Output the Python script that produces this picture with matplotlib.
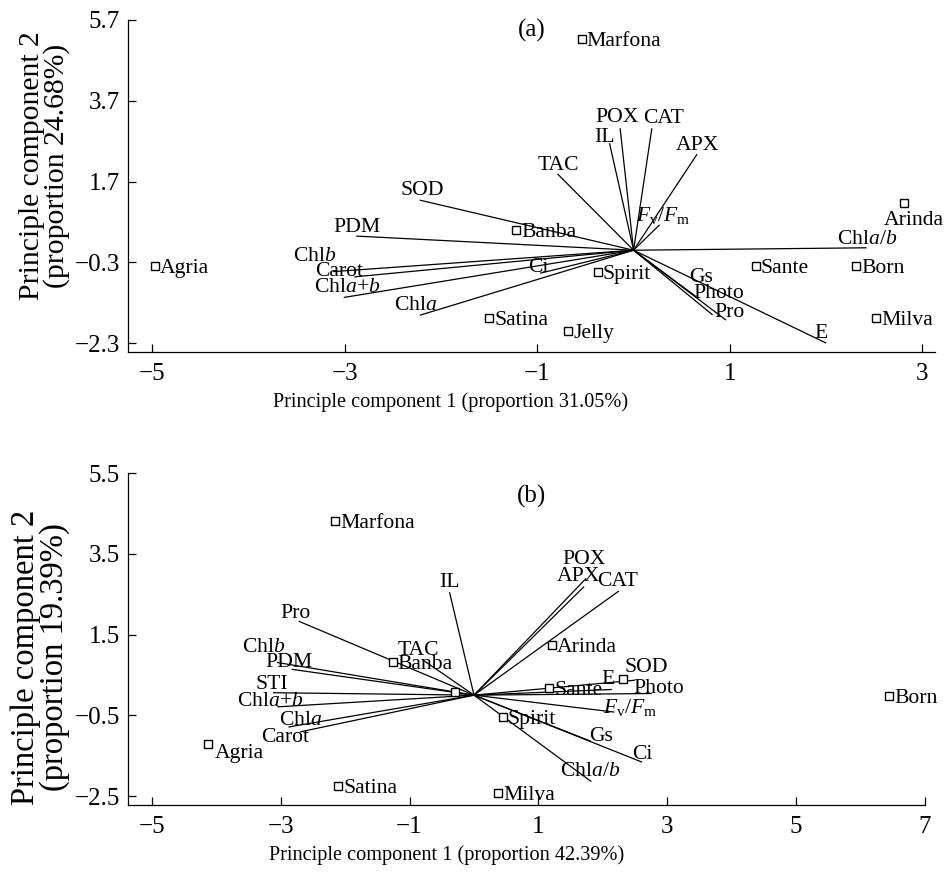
import matplotlib
matplotlib.use('Agg')
import matplotlib.pyplot as plt

plt.rcParams['font.family'] = ['Liberation Serif', 'DejaVu Serif']
plt.rcParams['mathtext.fontset'] = 'custom'
plt.rcParams['mathtext.rm'] = 'Liberation Serif'
plt.rcParams['mathtext.it'] = 'Liberation Serif:italic'

# ---------------- data: panel (a) ----------------
a_vars = ['SOD', 'PDM', 'Chl$b$', 'Carot', 'Chl$a$+$b$', 'Chl$a$', 'Ci', 'TAC', 'IL',
          'POX', 'CAT', 'APX', r'$F_{\mathrm{v}}/F_{\mathrm{m}}$', 'Chl$a$/$b$',
          'Gs', 'Photo', 'Pro', 'E']
a_var_pc1 = [-2.22, -2.88, -3.12, -2.90, -3.01, -2.22, -0.97, -0.79, -0.25,
             -0.14, 0.19, 0.66, 0.27, 2.42, 0.65, 0.82, 0.96, 2.00]
a_var_pc2 = [1.24, 0.35, -0.53, -0.66, -1.17, -1.61, -0.57, 1.89, 2.65,
             3.02, 3.02, 2.38, 0.63, 0.06, -1.15, -1.60, -1.73, -2.30]

a_cult = ['Marfona', 'Agria', 'Banba', 'Spirit', 'Satina', 'Jelly', 'Sante', 'Born', 'Milva', 'Arinda']
a_cult_pc1 = [-0.54, -4.97, -1.22, -0.37, -1.50, -0.68, 1.27, 2.31, 2.52, 2.81]
a_cult_pc2 = [5.23, -0.38, 0.50, -0.53, -1.68, -1.99, -0.39, -0.38, -1.68, 1.18]

a_xticks = [-5, -3, -1, 1, 3]
a_yticks = [5.7, 3.7, 1.7, -0.3, -2.3]
a_xlabel = 'Principle component 1 (proportion 31.05%)'
a_ylabel = 'Principle component 2\n(proportion 24.68%)'

# ---------------- data: panel (b) ----------------
b_vars = ['IL', 'Pro', 'Chl$b$', 'PDM', 'STI', 'Chl$a$+$b$', 'Chl$a$', 'Carot', 'TAC',
          'POX', 'APX', 'CAT', 'SOD', 'E', 'Photo', r'$F_{\mathrm{v}}/F_{\mathrm{m}}$',
          'Gs', 'Ci', 'Chl$a$/$b$']
b_var_pc1 = [-0.38, -2.72, -3.06, -2.83, -3.12, -3.05, -2.88, -2.70, -0.81,
             1.74, 1.71, 2.25, 2.50, 2.14, 2.76, 2.18, 1.81, 2.61, 1.82]
b_var_pc2 = [2.55, 1.83, 0.81, 0.64, 0.06, -0.29, -0.79, -0.91, 0.89,
             2.89, 2.69, 2.58, 0.37, 0.14, 0.04, -0.42, -1.14, -1.66, -2.14]

b_cult = ['Marfona', 'Banba', '', 'Agria', 'Satina', 'Milva', 'Spirit', 'Sante', 'Arinda', '', 'Born']
b_cult_pc1 = [-2.15, -1.26, -0.29, -4.13, -2.11, 0.38, 0.45, 1.17, 1.21, 2.31, 6.44]
b_cult_pc2 = [4.30, 0.83, 0.09, -1.20, -2.26, -2.42, -0.55, 0.18, 1.24, 0.41, -0.02]

b_xticks = [-5, -3, -1, 1, 3, 5, 7]
b_yticks = [5.5, 3.5, 1.5, -0.5, -2.5]
b_xlabel = 'Principle component 1 (proportion 42.39%)'
b_ylabel = 'Principle component 2\n(proportion 19.39%)'

# ---------------- label placement (pixel offsets, right/up) ----------------
a_var_off = [(2, 12), (1, 11), (-18, 18), (-15, 8), (3, 12), (-4, 12), (-2, 8), (1, 11), (-5, 8),
             (-3, 13), (12, 12), (0, 11), (4, 12), (0, 11), (5, 22), (6, 24), (3, 10), (-5, 12)]
b_var_off = [(0, 12), (-3, 10), (-13, 17), (-3, 9), (-1, 11), (-7, 8), (12, 9), (-15, -3), (-3, 11),
             (-2, 21), (-6, 12), (-1, 12), (11, 15), (-4, 12), (7, 8), (16, 7), (10, 7), (0, 10), (-1, 13)]
a_cult_off = {'Arinda': (10, -15, 'center')}
b_cult_off = {'Agria': (7, -7, 'left')}

PX2PT = 72.0 / 100.0
VAR_FS = 15.6
TICK_FS = 18

fig = plt.figure(figsize=(9.46, 8.74), dpi=100)
ax_a = fig.add_axes([128 / 946, 1 - 352 / 874, 807 / 946, 332 / 874])
ax_b = fig.add_axes([128 / 946, 1 - 805 / 874, 797 / 946, 332 / 874])


def draw(ax, vars_, vx, vy, voff, cult, cx, cy, coff, xt, yt, xlim, ylim, xl, yl, tag, tagpos,
         ylfs, ylpos):
    for name, x, y, (dx, dy) in zip(vars_, vx, vy, voff):
        ax.plot([0, x], [0, y], color='black', lw=0.9, solid_capstyle='butt')
        ax.annotate(name, xy=(x, y), xytext=(dx * PX2PT, dy * PX2PT), textcoords='offset points',
                    ha='center', va='center_baseline', fontsize=VAR_FS)
    ax.plot(cx, cy, linestyle='none', marker='s', markersize=5.2, markerfacecolor='white',
            markeredgecolor='black', markeredgewidth=1.0, zorder=5)
    for name, x, y in zip(cult, cx, cy):
        if not name:
            continue
        dx, dy, ha = coff.get(name, (5, 0, 'left'))
        ax.annotate(name, xy=(x, y), xytext=(dx * PX2PT, dy * PX2PT), textcoords='offset points',
                    ha=ha, va='center_baseline', fontsize=VAR_FS)
    ax.set_xlim(*xlim)
    ax.set_ylim(*ylim)
    ax.set_xticks(xt)
    ax.set_xticklabels([f'{v:g}'.replace('-', '\u2212') for v in xt])
    ax.set_yticks(yt)
    ax.set_yticklabels([f'{v:.1f}'.replace('-', '\u2212') for v in yt])
    ax.tick_params(direction='in', length=6, width=0.9, labelsize=TICK_FS)
    ax.tick_params(axis='x', pad=8)
    ax.tick_params(axis='y', pad=6)
    for s in ['top', 'right']:
        ax.spines[s].set_visible(False)
    for s in ['left', 'bottom']:
        ax.spines[s].set_linewidth(0.9)
    ax.spines['left'].set_bounds(ylim[0], yt[0])
    ax.set_xlabel(xl, fontsize=14.6)
    ax.set_ylabel(yl, fontsize=ylfs, linespacing=0.92)
    ax.xaxis.set_label_coords(0.40, -0.12)
    ax.yaxis.set_label_coords(*ylpos)
    ax.text(tagpos[0], tagpos[1], tag, transform=ax.transAxes, ha='center', va='center',
            fontsize=18)


draw(ax_a, a_vars, a_var_pc1, a_var_pc2, a_var_off, a_cult, a_cult_pc1, a_cult_pc2, a_cult_off,
     a_xticks, a_yticks, (-5.25, 3.13), (-2.52, 5.7), a_xlabel, a_ylabel, '(a)', (0.50, 0.97),
     21.3, (-0.072, 0.56))
draw(ax_b, b_vars, b_var_pc1, b_var_pc2, b_var_off, b_cult, b_cult_pc1, b_cult_pc2, b_cult_off,
     b_xticks, b_yticks, (-5.37, 7.0), (-2.72, 5.5), b_xlabel, b_ylabel, '(b)', (0.5065, 0.93),
     23.5, (-0.073, 0.445))

fig.savefig('out.png', dpi=100)
